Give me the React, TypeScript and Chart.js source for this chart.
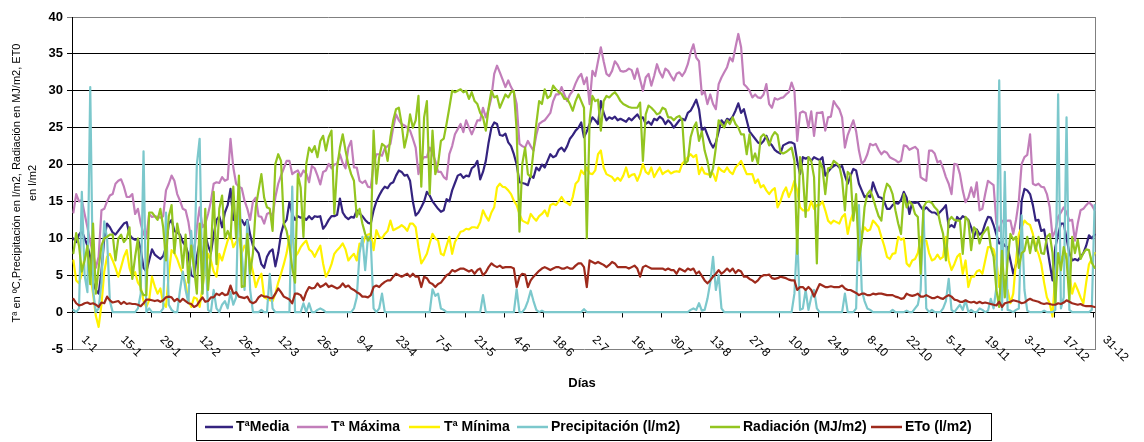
import React, { useEffect, useRef } from 'react';
import { Chart, registerables } from 'chart.js';

Chart.register(...registerables);

// ---------- categories ----------
const MONTH_DAYS = [31, 28, 31, 30, 31, 30, 31, 31, 30, 31, 30, 31];
const DAYS: string[] = [];
MONTH_DAYS.forEach((n, m) => {
  for (let d = 1; d <= n; d++) DAYS.push(`${d}-${m + 1}`);
});

// tick labels, one every 14 days
const TICK_EVERY = 14;
const TICK_LABELS = [
  '1-1', '15-1', '29-1', '12-2', '26-2', '12-3', '26-3', '9-4', '23-4', '7-5', '21-5', '4-6', '18-6', '2-7',
  '16-7', '30-7', '13-8', '27-8', '10-9', '24-9', '8-10', '22-10', '5-11', '19-11', '3-12', '17-12', '31-12',
];

// ---------- series ----------
const T_MEDIA = [
  10, 9.5, 10.5, 11, 10, 9, 7.5, 4, 3, 2.5, 5.5, 10, 12, 11.5,
  10.8, 10.5, 11, 11.5, 12, 12.2, 10.5, 10, 9.8, 9.9, 8.5, 6, 5.5, 7,
  8.5, 7.8, 7.5, 7.2, 7.6, 8.8, 12, 12.5, 11, 10.8, 10.5, 9.5, 9, 7.8,
  5, 4.8, 7.5, 9.5, 7, 10.5, 9, 8, 10.5, 12.5, 13, 11.5, 13.5, 14.5,
  16.7, 12.5, 12.8, 12, 12.5, 11.8, 12.5, 10.5, 9, 8.5, 8, 6.5, 6, 7.5,
  8.2, 8.5, 6.2, 8, 10.6, 12, 12.5, 14.9, 13.3, 12.5, 13, 12.8, 12.9, 12.5,
  13, 12.6, 13, 12.9, 13, 11.3, 11.8, 12.5, 13, 13, 13.2, 15.4, 13.5, 12.9,
  12.6, 12.9, 12.8, 13.8, 13.4, 13, 12.5, 12.1, 12, 13.8, 15, 15.8, 16.5, 17,
  16.8, 17.4, 17.6, 18.5, 19.2, 19, 18.5, 18.6, 17.8, 15, 13.1, 13.5, 14.2, 15,
  16.3, 15.8, 15, 14.5, 14, 13.6, 13.8, 15.3, 15, 16.5, 17.5, 18.5, 18.7, 18.2,
  18.5, 18.4, 19.5, 19.8, 20.5, 18, 19, 20.5, 23, 25, 25.7, 25.5, 24, 23.9,
  24.2, 23, 22.5, 21.4, 20, 17.6, 17.5, 17.4, 17.2, 18.5, 18.2, 19.6, 19.2, 20,
  19.6, 20.5, 21.4, 21, 21.2, 22, 22.3, 21.8, 22.5, 23.5, 24, 24.6, 25, 25.7,
  23.7, 24.5, 25.5, 26.4, 26, 25.5, 28.6, 27, 26, 26.4, 26.2, 26.5, 26, 26.2,
  26, 25.8, 26.3, 26, 26.4, 26.8, 26.2, 26.4, 25.5, 25.8, 25.4, 26.2, 26, 26.5,
  26.2, 25.5, 26, 25.6, 25, 25.5, 26, 26.2, 26, 27, 27.3, 28, 28.8, 27.5,
  24.6, 25, 24, 23, 22.3, 23, 24.5, 26, 25.5, 26.2, 26, 26.5, 27.3, 28.3,
  27, 27.5, 26, 24.5, 24, 23.5, 23, 22.8, 23.2, 23.9, 23, 22.6, 22, 21.7,
  21.5, 22.6, 22.8, 23, 23, 22.8, 20.5, 18.7, 21, 20.8, 21, 20.5, 21, 20.8,
  20.6, 21, 18.5, 19, 19.5, 19.8, 20, 19.6, 19.8, 18.5, 17.4, 18.5, 19.4, 19.2,
  17.4, 16.5, 15.6, 15.8, 15.6, 17.6, 16.5, 15.6, 15.5, 15, 14, 14, 14.5, 14.8,
  14.7, 15.2, 16.3, 15.5, 13.3, 14.9, 14.8, 14.9, 14.3, 13.8, 14.2, 13.8, 13.5, 13.5,
  13.2, 13.6, 14, 14.5, 11.5, 11.8, 11.5, 12.9, 12.5, 13, 12.8, 12.5, 11.5, 10.2,
  11.2, 10.5, 10.8, 12, 12.9, 12.8, 11.8, 10.5, 9.3, 9.5, 9, 8.8, 7, 5.2,
  6.5, 7.9, 15.1, 16.7, 16.5, 16, 14.5, 12.4, 12.5, 11, 11.2, 9, 6.6, 4.3,
  8.8, 10.5, 12, 12, 10, 8, 7, 7.2, 7, 7.5, 8, 9, 10.4, 10, 10.5,
];

const T_MAXIMA = [
  13.5, 16, 15, 15.2, 13.3, 11.5, 9.5, 8, 6, 7.5, 13.8, 14, 15, 15.8,
  16, 17.4, 17.8, 18, 17, 15.6, 15.6, 16, 13.3, 14, 12, 10.6, 10, 13.3,
  12.9, 13, 12.9, 12.8, 13, 16.5, 17.4, 18.5, 17.8, 16, 15.1, 14, 13.8, 12.2,
  9.7, 8, 11.5, 14.2, 11.5, 12, 13.3, 15, 17.4, 17.6, 17.5, 18.3, 17.8, 18,
  23.5, 19.6, 17.4, 17, 16.8, 15.1, 14, 12.5, 15, 15.5, 13, 12.9, 12, 13.3,
  13.5, 13, 15.6, 17.4, 18.5, 19.5, 20.5, 20.5, 18.7, 19, 19.2, 18.4, 19.2, 18.8,
  17.6, 19.8, 19.5, 18.5, 17.3, 19, 19.2, 20.1, 19.5, 20, 20.1, 21.4, 20.2, 19.5,
  22.3, 23.2, 19.6, 19.6, 17.8, 17.5, 17.8, 17, 16.9, 20, 21.4, 21.4, 21.2, 22.2,
  22.5, 22.8, 25, 26.8, 26, 25.5, 25.3, 25, 24.6, 23.5, 22.3, 18.7, 20.5, 21,
  21, 22.3, 21.5, 20.5, 19, 19, 18.3, 18, 21.4, 22.5, 24.1, 24.8, 25.5, 24.4,
  26, 25, 24.1, 25, 26, 26, 27.7, 26.4, 27.5, 29.1, 32.3, 33.4, 32.5, 31.5,
  30.5, 31.4, 30.5, 29.8, 28.2, 22.8, 22.5, 22.3, 23.2, 22.5, 21.9, 24, 25.5, 25.8,
  26, 26.5, 27, 28.6, 29.5, 29.5, 30.5, 29.5, 28.6, 29.5, 30, 31, 31.8, 32.3,
  30.9, 31.8, 28.2, 32.7, 32, 34, 35.9, 34, 32.3, 32, 32.7, 34, 33.5, 32.7,
  32.6, 32.7, 33, 32.8, 31.6, 33, 31.5, 30, 31.8, 32.3, 30.7, 32, 33.6, 32.5,
  31.8, 33, 32.7, 32, 31.4, 32.3, 32.5, 32, 32.6, 33.6, 35.2, 36.3, 34.5, 34,
  29.5, 29.9, 28.2, 29.5, 28.2, 27.5, 30.9, 31.8, 32.5, 33.2, 34.5, 34, 35.9, 37.7,
  35.9, 30.9, 30.5, 30, 29.1, 29.5, 29.1, 29, 29.5, 30.9, 28.2, 27.7, 29, 28.8,
  29, 29.1, 29.5, 29.8, 31.1, 30, 23.2, 27, 27.2, 27, 25, 27.2, 23.9, 27,
  27, 27.1, 24.6, 26.4, 26.5, 28.6, 28, 27.5, 26.4, 22.3, 24, 25, 26, 24.5,
  21.9, 20.1, 20.5, 21.4, 22.8, 22.6, 22.8, 22, 21.4, 21.8, 21.6, 21, 20.8, 20.6,
  20.3, 20.5, 22.6, 22.5, 22, 22.2, 22.4, 22, 18.3, 18, 17.8, 21.9, 21.9, 21.5,
  20.3, 20.5, 19.5, 18.3, 17.4, 16, 20.1, 20, 18.7, 16.5, 14.9, 15.5, 16.9, 15.6,
  17.6, 13.8, 14, 16, 17.8, 17.5, 17.2, 12, 11, 12.4, 12.2, 12.4, 12.4, 10.6,
  12.5, 15.1, 20.1, 21, 21.3, 24.1, 17.4, 17.2, 17.4, 17, 16.9, 16, 14.2, 10.2,
  11, 12.9, 13.5, 14.2, 13.5, 12.4, 12.5, 9.7, 12, 13.8, 14, 14.5, 14.9, 14.5, 13.8,
];

const T_MINIMA = [
  7, 4.3, 3.9, 5.2, 7.5, 7.9, 5.2, 2.5, -0.5, -2, 1, 5.5, 7.5, 7.9,
  7, 6, 4.8, 6.1, 7.5, 8.4, 6, 4.8, 5.4, 4, 3.4, 1.5, 0.7, 1.6,
  4.8, 3.5, 2.5, 3.2, 1.2, 0.7, 5.2, 8.4, 8, 7.2, 6.1, 5.2, 3.9, 1.6,
  0.7, 2, 1.8, 0.7, 3.4, 5.5, 7.9, 7, 5.5, 4.8, 7.9, 7, 8.4, 9.7,
  10.6, 8.8, 9.5, 10, 8, 9, 8.5, 7, 5.5, 3.4, 4.5, 5.2, 2, 1.8,
  1.6, 1.5, 2.5, 4, 5.2, 6.5, 8, 10.2, 10.6, 7.5, 8, 8.8, 9.3, 9.7,
  8.5, 8.2, 7.5, 8.3, 9, 6.6, 4.8, 5.5, 6.5, 7.9, 8.4, 8.8, 9.3, 8.5,
  7, 7.5, 7.9, 7, 9.3, 9, 10.2, 10.5, 10.6, 8.4, 11.1, 10.2, 10, 10.6,
  11, 12.4, 11.1, 11.3, 11.5, 11.8, 11.5, 11, 12, 12, 11.5, 8.8, 6.6, 7.2,
  7.9, 9.3, 10.6, 10, 9.7, 7.9, 7.7, 9, 10.2, 7.9, 9.5, 10.2, 10.9, 11,
  11.3, 11.2, 11.5, 11.5, 11.4, 12.2, 13.8, 13, 12.4, 13.5, 14.2, 16.9, 17.4, 17,
  16.9, 16.5, 16, 15.1, 14.5, 13.3, 12.4, 12.2, 12, 13.3, 12.8, 12.4, 13, 13.3,
  13.8, 13, 14.5, 14.7, 14.5, 15, 15.6, 15, 14.8, 14.5, 15.6, 17.4, 17.8, 19.2,
  18.7, 19.6, 18.8, 18.7, 19.2, 21.4, 21.9, 19.6, 18.7, 18.5, 18.3, 17.8, 18.2, 17.8,
  18.5, 19.6, 18.3, 18.6, 18.7, 17.8, 18.7, 20.1, 19, 18.7, 19.6, 18.3, 19, 19.6,
  18.7, 19, 19.2, 18.8, 19, 19.1, 19, 20.1, 20.5, 21, 21.4, 21, 21.3, 18.7,
  19.6, 18.8, 18.7, 18.6, 18.8, 17.8, 19.6, 19.2, 19, 19.6, 19, 18.7, 19.6, 20,
  20.5, 19.6, 18.7, 18.7, 18.7, 17.5, 18, 16.9, 17.2, 16.5, 16, 16.5, 16.8, 14.2,
  15, 16.2, 16.9, 15.6, 16.5, 17.8, 16.5, 14.2, 13.8, 13.8, 13.8, 15, 14, 14.5,
  14.5, 15, 13.8, 12.4, 12, 12.4, 12.2, 12, 12.9, 13.3, 10.6, 12.4, 13.5, 14.2,
  11.5, 10.6, 11.5, 11, 11.2, 12.4, 12, 11.5, 10.2, 9, 7.5, 7.2, 7.9, 8,
  10.2, 9.8, 10, 6.6, 6.2, 7, 7.2, 8, 10.2, 9.7, 9.7, 8, 7, 7.2,
  7.8, 7.2, 7.5, 10.2, 7, 5.7, 6.5, 7.5, 7.9, 5.2, 7, 3.4, 4.8, 4.8,
  5.5, 5.7, 5.2, 7, 8.8, 8.8, 8.5, 7, 3.4, 6.1, 3.4, 3, 1.2, 2.5,
  7, 10.6, 11.5, 12.4, 12, 11.8, 10.6, 8.8, 7.9, 6.5, 4, 2, 1.2, -0.6,
  5.2, 7.9, 7.5, 7, 7.9, 5.2, 2.5, 3.9, 3, 2, 1.2, 4, 6.5, 7.2, 8,
];

const PRECIPITACION = [
  0.3, 0, 0.5, 16.3, 5, 2.7, 30.5, 3, 0, 0.5, 4, 12.3, 10, 1.5,
  0, 0, 0, 0, 0, 0, 0, 0, 0, 0.5, 2.5, 21.8, 0, 0.5,
  0, 0, 0, 0, 0.5, 13.5, 1, 0.3, 0, 0, 3, 5.5, 3, 1.2,
  11, 5, 20, 23.5, 2.5, 9, 0.3, 0, 3, 0.5, 0, 1, 1.5, 0.5,
  2.7, 1, 2, 17.8, 8, 3, 12.4, 3, 0, 0, 0, 0.3, 0, 0,
  5.2, 0.5, 0, 0, 0, 0, 0, 0, 17, 0, 0, 0, 1.2, 0,
  1.2, 0, 0, 0.3, 0.5, 0.3, 0, 0, 0, 0, 0, 0, 0, 0,
  0, 0, 0.5, 2, 8, 10.2, 5.7, 10.2, 9.5, 0.5, 0, 0.5, 2.5, 0,
  0, 0, 0, 0, 0, 0, 0, 0, 0, 0, 0, 0, 0, 0,
  0, 0, 3.1, 2.2, 2.5, 0.5, 0.3, 0, 0, 0, 0, 0, 0, 0,
  0, 0, 0, 0, 0, 0, 2.3, 0, 0, 0, 0, 0, 0, 0,
  0, 0, 0, 0, 3.1, 0, 0, 0.5, 1.5, 2.9, 1.5, 0.3, 0, 0.2,
  0, 0, 0, 0, 0, 0, 0, 0, 0, 0, 0, 0, 0, 0,
  0.4, 0, 0, 0, 0, 0, 0, 0, 0, 0, 0, 0, 0, 0,
  0, 0, 0, 0, 0, 0, 0, 0, 0, 0, 0, 0, 0, 0,
  0, 0, 0, 0, 0, 0, 0, 0, 0, 0, 0.3, 0.5, 0.3, 1.2,
  0.2, 0.3, 1.8, 4, 7.5, 3, 5, 0.5, 0, 0, 0, 0, 0, 0,
  0, 0, 0, 0, 0, 0, 0, 0, 0, 0, 0, 0, 0, 0,
  0, 0, 0, 0, 0, 2.5, 10.2, 0.3, 0.5, 3, 0.3, 2, 3, 0.5,
  0, 0, 0, 0, 0, 0, 0, 0, 0, 2.5, 0, 0, 0, 0.5,
  14.5, 3, 1.5, 0.5, 0.3, 0, 0, 0, 0, 0, 0, 0, 0.3, 0,
  0, 0, 0, 0.2, 0, 0, 0.5, 1, 3, 14.2, 0.5, 0, 0.3, 0,
  0, 0, 0.5, 1.5, 4.5, 0.3, 0, 0.5, 1, 0.3, 1.6, 0, 0.3, 0,
  0, 0.5, 0.3, 0, 0.2, 1.8, 0.5, 3.4, 31.4, 0.3, 19, 0.3, 0.2, 0,
  0.3, 0.5, 13.1, 3, 0.2, 0, 0, 0, 0, 0, 0.2, 0, 0, 0,
  0.3, 29.5, 0.5, 2, 26.4, 0.3, 0, 0, 0, 0, 0, 0, 0, 0.3, 14.5,
];

const RADIACION = [
  8, 10.7, 9, 5.5, 7, 9, 3.8, 12, 2.5, 6, 9, 10, 10.2, 10.5,
  10.5, 7, 10, 10.5, 9.5, 10, 11.5, 4.5, 7.5, 10, 3, 2.3, 2.3, 13.5,
  13.5, 13, 12.5, 14, 11.5, 7, 13, 14.5, 8, 12, 10, 6, 10.5, 4,
  9, 6, 2.5, 12, 2.5, 14, 3, 8, 16.3, 6.5, 14, 15.8, 10, 11,
  10, 17, 10, 18.5, 3.4, 3.5, 10.6, 5.2, 8, 14.2, 16.5, 18.7, 15.5, 14.2,
  14, 11, 20.1, 21.4, 20.5, 12, 11, 9, 6, 4, 18.7, 16.9, 10.2, 20.1,
  22.3, 21.7, 22.5, 21, 23.2, 23.9, 21.9, 23.7, 24.6, 13.3, 19.6, 22.3, 24.1, 21.9,
  20, 18.7, 17.8, 12.9, 14, 12, 10.6, 9.7, 10.3, 24.6, 17.4, 21, 22.8, 22.5,
  20.5, 23.7, 26, 27.5, 27.7, 25.5, 22.3, 24, 26.8, 25, 26, 29.3, 17, 26.4,
  28.6, 16, 24.6, 18.7, 20.1, 23.2, 23.5, 25.5, 27.7, 30, 29.8, 30, 30.2, 29.8,
  30, 28.9, 29.8, 28.6, 28.2, 27, 26.4, 24.6, 27.7, 30, 29.1, 29.3, 27.7, 28.6,
  29.5, 29.1, 29.8, 30, 24.6, 10.9, 20.1, 22.3, 18.7, 18.3, 21.9, 25.5, 28.6, 28.2,
  30.2, 29, 29.3, 30.7, 30.2, 29.8, 29.6, 28.9, 28.9, 28.2, 27.3, 28.6, 29.5, 28.6,
  27.7, 10, 26, 29.3, 28.6, 28.8, 24.6, 28.6, 29.3, 29.1, 29.5, 29.8, 29.3, 28.6,
  28.2, 28, 27.8, 27.7, 27.7, 27.7, 28.4, 20.5, 26.8, 28, 27.7, 27.3, 26.8, 27,
  27.7, 27.5, 26.4, 26.4, 26, 26.4, 26.6, 26, 20.1, 20.5, 23.7, 25, 25.7, 23.2,
  24.5, 21.9, 20.5, 18.3, 19.5, 22.3, 26, 25.5, 25, 26, 25.5, 26.4, 25.5, 25,
  24.1, 24.1, 21.4, 24.1, 20.5, 21.5, 20.1, 23.7, 24.1, 23.7, 22.6, 23.8, 24.4, 24,
  21.7, 21.5, 21.7, 22, 22.3, 20.5, 7.9, 21, 18.7, 12.9, 21, 20.5, 18.3, 6.6,
  20.5, 19.5, 16, 19.5, 19.6, 20.5, 20.2, 19.8, 18, 13.8, 19, 18.6, 12.4, 16,
  7, 9.7, 14.2, 16, 16.5, 15.5, 14.2, 13, 12.4, 16, 17.4, 17, 16, 13.8,
  12, 10.6, 16, 14.2, 15, 14.6, 13.3, 12.9, 5.2, 14.2, 14.9, 15, 14.8, 14.2,
  13.8, 12, 10.6, 7, 12.4, 12.9, 12.5, 12.4, 12.4, 7.9, 12.9, 12.4, 8.4, 11.5,
  11, 9.3, 10.5, 11, 11.5, 8.8, 7.5, 3, 0.7, 8.3, 2, 7, 10.6, 9.8,
  10.2, 6, 8, 8.3, 10.2, 8, 10.2, 8.3, 10.2, 8, 7.9, 10.2, 10.6, 8,
  1.2, 8, 5.7, 8.8, 7.2, 1.6, 10.2, 8, 9.8, 7.2, 8, 8.5, 8.4, 6.7, 6,
];

const ETO = [
  1.8, 1.2, 0.9, 1, 1.2, 1.3, 1.1, 1.2, 1, 0.7, 1.3, 1.2, 2.1, 1.6,
  1.3, 1.4, 1.5, 1.1, 1.4, 1.1, 1.2, 1.1, 1.1, 1, 0.8, 1.2, 1.7, 1.7,
  1.6, 1.5, 1.6, 1.4, 1.6, 2, 2.1, 2, 1.5, 1.8, 1.4, 1.8, 1.5, 1.2,
  1.1, 0.7, 0.9, 1.5, 2, 1.4, 1.5, 2, 2, 2.5, 2.3, 2.6, 2.3, 2.4,
  3.6, 2.5, 2.7, 2.1, 2, 1.9, 2.1, 1.4, 1.2, 1.4, 2, 2.3, 2.1, 2.1,
  1.9, 1.9, 2.5, 3.2, 2.7, 2.1, 1.9, 1.7, 1.2, 2.5, 2.5, 2.3, 1.6, 2.7,
  3.4, 3.2, 3.3, 3.9, 3.4, 3.6, 3.9, 3.4, 3.6, 3.4, 3.2, 3.4, 3.9, 3.4,
  3.6, 3.2, 3, 2.7, 2.5, 2.1, 2.1, 2, 2.3, 3.4, 3.6, 3.4, 3.8, 4.1,
  4.3, 4.3, 4.8, 5.2, 5, 4.8, 5, 5.2, 4.8, 5.2, 4.8, 4.8, 3.4, 4.8,
  4.6, 4, 3.8, 3.4, 3.8, 4, 4.5, 5, 5.2, 5.7, 5.5, 5.7, 5.9, 5.9,
  5.7, 5.5, 5.7, 5.2, 5.7, 5.9, 5, 5.4, 6.1, 6.6, 6.3, 6.1, 6.3, 6,
  6.1, 6.1, 6.1, 5.9, 3.4, 4.8, 5.2, 5.1, 3.4, 4.3, 4.8, 5.2, 5.6, 5.9,
  6.1, 5.9, 5.7, 5.9, 6.1, 6.1, 5.9, 5.9, 6.1, 5.9, 5.9, 6.3, 6.6, 6.6,
  6.1, 3.4, 7, 6.8, 6.6, 6.8, 6.6, 6.4, 6.1, 6.4, 6.8, 6.6, 6.1, 6.1,
  6.1, 6.1, 5.9, 6.1, 6.3, 5.9, 4.8, 6.1, 6.3, 6.1, 5.9, 5.9, 5.9, 5.9,
  5.9, 5.7, 5.9, 5.7, 5.7, 5.2, 5.9, 5.7, 5.5, 5.9, 5.7, 5.9, 5.2, 5.5,
  4.9, 4.3, 3.9, 4.3, 4.8, 5.2, 5.7, 5.2, 5.5, 5.9, 5.5, 5.9, 5.3, 5.7,
  5.5, 4.8, 4.8, 4.5, 4.3, 4, 4.3, 4.8, 5, 5, 5.1, 4.6, 4.5, 4.6,
  4.8, 4.7, 4.6, 4.4, 4.3, 4.3, 3, 3.4, 3.4, 3, 3.4, 3, 2.1, 3,
  3.8, 3.6, 3.4, 3.4, 3.5, 3.4, 3.4, 3.4, 3.6, 3.2, 3, 3, 2.8, 2.6,
  2.3, 2.5, 2.5, 2.3, 2.3, 2.5, 2.4, 2.5, 2.5, 2.4, 2.3, 2.3, 2.3, 2.1,
  2, 1.8, 1.9, 2.5, 2.3, 2.2, 2.3, 2.5, 2.1, 2.1, 2.3, 2.1, 1.9, 1.9,
  2.1, 1.9, 1.8, 2.1, 2.3, 2.1, 1.7, 1.6, 1.4, 1.4, 1.6, 1.4, 1.3, 1.4,
  1.2, 1.4, 1.2, 1.3, 1.2, 1.1, 1, 0.9, 1.4, 0.7, 1.2, 1.3, 1.4, 1.6,
  1.5, 1.4, 1.2, 1.3, 1.6, 1.8, 1.6, 1.5, 1.4, 1.2, 1.1, 1.2, 1.1, 1,
  1, 1.2, 1.1, 1.3, 1.6, 1.4, 1.2, 1.1, 1, 1.1, 0.9, 0.8, 0.8, 0.8, 0.7,
];

const SERIES_NAMES = ['TªMedia', 'Tª Máxima', 'Tª Mínima', 'Precipitación (l/m2)', 'Radiación (MJ/m2)', 'ETo (l/m2)'];
const SERIES_DATA = [T_MEDIA, T_MAXIMA, T_MINIMA, PRECIPITACION, RADIACION, ETO];
const SERIES_COLORS = ['#34237F', '#C27EBA', '#FFF200', '#7CC8CC', '#93C520', '#9E2A1C'];

const Y_TITLE = ['Tª en ºC,Precipitación en l/m2, Radiación en MJ/m2, ET0', 'en l/m2'];
const X_TITLE = 'Días';

const FONT = 'Arial, "Liberation Sans", Helvetica, sans-serif';

const decorPlugin = {
  id: 'decor',
  beforeDatasetsDraw(chart: any) {
    const { ctx, chartArea } = chart;
    const xs = chart.scales.x;
    const ys = chart.scales.y;
    ctx.save();
    // right border of plot area
    ctx.strokeStyle = '#808080';
    ctx.lineWidth = 1;
    ctx.beginPath();
    const rx = Math.round(chartArea.right) - 0.5;
    ctx.moveTo(rx, chartArea.top);
    ctx.lineTo(rx, chartArea.bottom);
    ctx.stroke();
    // category tick marks on the zero line
    const y0 = Math.round(ys.getPixelForValue(0)) + 0.5;
    const step = xs.getPixelForValue(1) - xs.getPixelForValue(0);
    ctx.strokeStyle = '#000';
    ctx.beginPath();
    for (let k = 1; k < TICK_LABELS.length; k++) {
      const x = Math.round(xs.getPixelForValue(k * TICK_EVERY) - step / 2) + 0.5;
      ctx.moveTo(x, y0);
      ctx.lineTo(x, y0 + 5);
    }
    ctx.stroke();
    ctx.restore();
  },
  afterDraw(chart: any) {
    const { ctx } = chart;
    const xs = chart.scales.x;
    ctx.save();
    ctx.fillStyle = '#000';
    // x tick labels, rotated 45deg clockwise
    ctx.font = `12px ${FONT}`;
    ctx.textAlign = 'left';
    ctx.textBaseline = 'middle';
    TICK_LABELS.forEach((lab, k) => {
      const x = xs.getPixelForValue(k * TICK_EVERY) + 10;
      ctx.save();
      ctx.translate(x, 338);
      ctx.rotate(Math.PI / 4);
      ctx.fillText(lab, 0, 0);
      ctx.restore();
    });
    // y title
    ctx.font = `11px ${FONT}`;
    ctx.textAlign = 'center';
    ctx.textBaseline = 'middle';
    [17, 33].forEach((x, i) => {
      ctx.save();
      ctx.translate(x, 183);
      ctx.rotate(-Math.PI / 2);
      ctx.fillText(Y_TITLE[i], 0, 0);
      ctx.restore();
    });
    // x title
    ctx.font = `bold 13px ${FONT}`;
    ctx.fillText(X_TITLE, 582, 383);
    // legend
    ctx.strokeStyle = '#000';
    ctx.lineWidth = 1;
    ctx.strokeRect(196.5, 413.5, 795, 27);
    const pos = [
      [205, 233, 236],
      [297, 328, 331],
      [409, 440, 444],
      [517, 548, 551],
      [710, 740, 743],
      [871, 902, 905],
    ];
    ctx.font = `bold 14px ${FONT}`;
    ctx.textAlign = 'left';
    ctx.textBaseline = 'middle';
    const ly = 427;
    SERIES_NAMES.forEach((name, i) => {
      const [a, b, t] = pos[i];
      ctx.strokeStyle = SERIES_COLORS[i];
      ctx.lineWidth = 2.5;
      ctx.beginPath();
      ctx.moveTo(a, ly);
      ctx.lineTo(b, ly);
      ctx.stroke();
      ctx.fillStyle = '#000';
      ctx.fillText(name, t, ly + 0.5);
    });
    ctx.restore();
  },
};

export default function App() {
  const ref = useRef<HTMLCanvasElement | null>(null);
  useEffect(() => {
    const canvas = ref.current;
    if (!canvas) return;
    const chart = new Chart(canvas, {
      type: 'line',
      data: {
        labels: DAYS,
        datasets: SERIES_DATA.map((d, i) => ({
          label: SERIES_NAMES[i],
          data: d,
          borderColor: SERIES_COLORS[i],
          backgroundColor: SERIES_COLORS[i],
          borderWidth: 2.2,
          pointRadius: 0,
          fill: false,
          tension: 0,
          order: 6 - i,
        })),
      },
      options: {
        responsive: false,
        animation: false,
        devicePixelRatio: 1,
        layout: { padding: { left: 0, top: 17, right: 48, bottom: 93 } },
        plugins: { legend: { display: false }, tooltip: { enabled: false }, title: { display: false } },
        elements: { line: { borderJoinStyle: 'round', borderCapStyle: 'round' }, point: { radius: 0 } },
        scales: {
          x: { type: 'category', display: false, offset: true },
          y: {
            min: -5,
            max: 40,
            afterFit: (s: any) => {
              s.width = 72;
            },
            ticks: {
              stepSize: 5,
              color: '#000',
              padding: 4,
              font: { family: FONT, size: 13, weight: 'bold' },
            },
            grid: {
              color: (c: any) => (c.tick && (c.tick.value === 40 || c.tick.value === -5) ? '#808080' : '#000000'),
              lineWidth: 1,
              tickLength: 5,
              drawTicks: true,
            },
            border: { display: true, color: '#000', width: 1 },
          },
        },
      },
      plugins: [decorPlugin],
    } as any);
    return () => chart.destroy();
  }, []);
  return (
    <div style={{ position: 'absolute', left: 0, top: 0, width: 1144, height: 442, background: '#fff' }}>
      <canvas ref={ref} width={1144} height={442} style={{ display: 'block', width: 1144, height: 442 }} />
    </div>
  );
}
